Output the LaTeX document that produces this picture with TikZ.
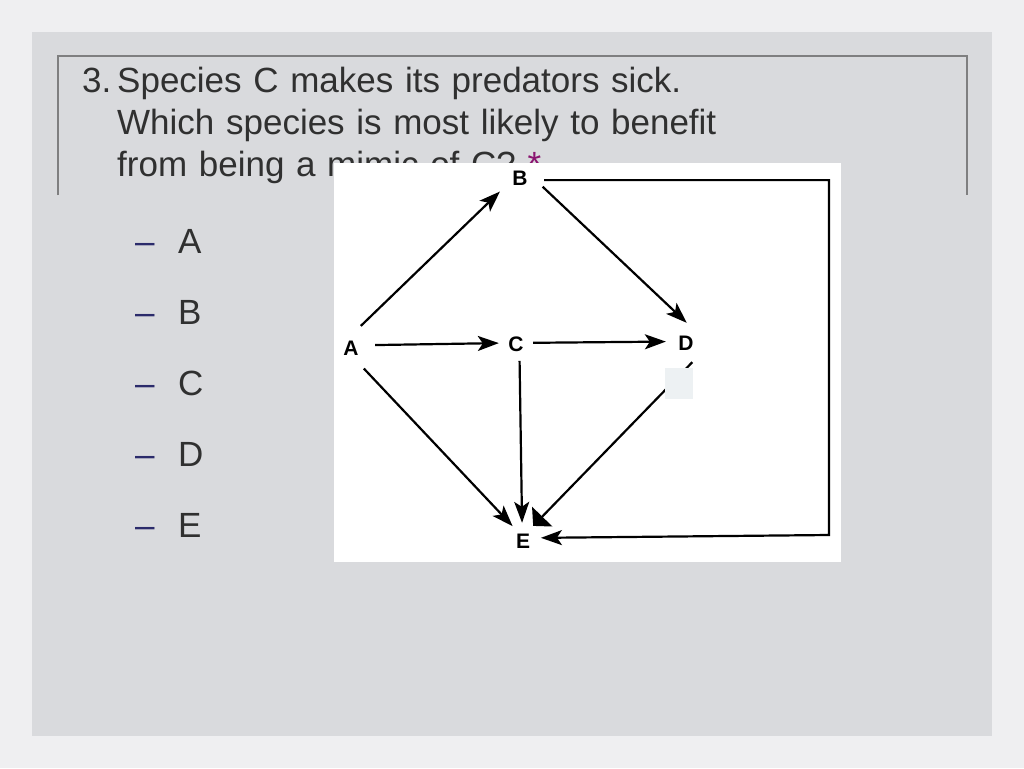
\documentclass[tikz,border=0pt]{standalone}
\usepackage{fontspec}
\setmainfont{Liberation Sans}
\usetikzlibrary{arrows.meta}
\definecolor{pagebg}{HTML}{EFEFF1}
\definecolor{panelgray}{HTML}{D9DADD}
\definecolor{framegray}{HTML}{7F7F80}
\definecolor{textgray}{HTML}{303030}
\definecolor{dashnavy}{HTML}{2B2B6B}
\definecolor{starpurple}{HTML}{8A1470}
\definecolor{smudge}{HTML}{EDF1F3}
\begin{document}
\begin{tikzpicture}[x=1pt, y=-1pt,
  txt/.style={inner sep=0pt, text=textgray, font=\fontsize{35}{42}\selectfont},
  lbl/.style={circle, inner sep=0pt, font=\fontsize{21}{21}\selectfont\bfseries},
  arrow/.style={-{Stealth[length=21pt, width=15pt, inset=5pt]}, line width=2.2pt}
]
% slide background
\fill[pagebg] (0,0) rectangle (1024,768);
\fill[panelgray] (32,32) rectangle (992,736);
\draw[framegray, line width=1.3pt] (58,195) -- (58,56) -- (967,56) -- (967,195);

% question
\node[txt, anchor=base west] (num) at (82,92) {3.};
\node[txt, anchor=base west, text width=720pt, align=left] (question) at (117,92)
  {Species C makes its predators sick.\\ Which species is most likely to benefit\\ from being a mimic of C? \textcolor{starpurple}{*}};

% answer choices
\foreach \letter [count=\i from 0] in {A,B,C,D,E} {
  \node[txt, text=dashnavy, anchor=base west] (dash\letter) at (135,253+71*\i) {--};
  \node[txt, anchor=base west] (opt\letter) at (178,253+71*\i) {\letter};
}

% food web picture
\fill[white] (334,163) rectangle (841,562);
\node[lbl, minimum size=48pt] (A) at (351,348) {A};
\node[lbl, minimum size=48pt] (B) at (520,178) {B};
\node[lbl, minimum size=34pt] (C) at (516,344) {C};
\node[lbl, minimum size=40pt] (D) at (686,343) {D};
\node[lbl, minimum size=36pt] (E) at (523,541) {E};
\coordinate (corner) at (829,535);

\draw[arrow] (A.66) -- (B.214);
\draw[arrow] (A.7) -- (C.177);
\draw[arrow] (C.4) -- (D.176);
\draw[arrow] (B.-21) -- (D.88);
\draw[arrow] (A.-58) -- (E.125);
\draw[arrow] (C.-78) -- (E.93);
\draw[-{Triangle[length=13pt, width=28pt]}, line width=2.2pt] (D.-72) -- (E.56);
\draw[arrow] (B.-5) -| (corner) -- (E.10);

\fill[smudge] (665,368) rectangle (693,399);
\end{tikzpicture}
\end{document}
